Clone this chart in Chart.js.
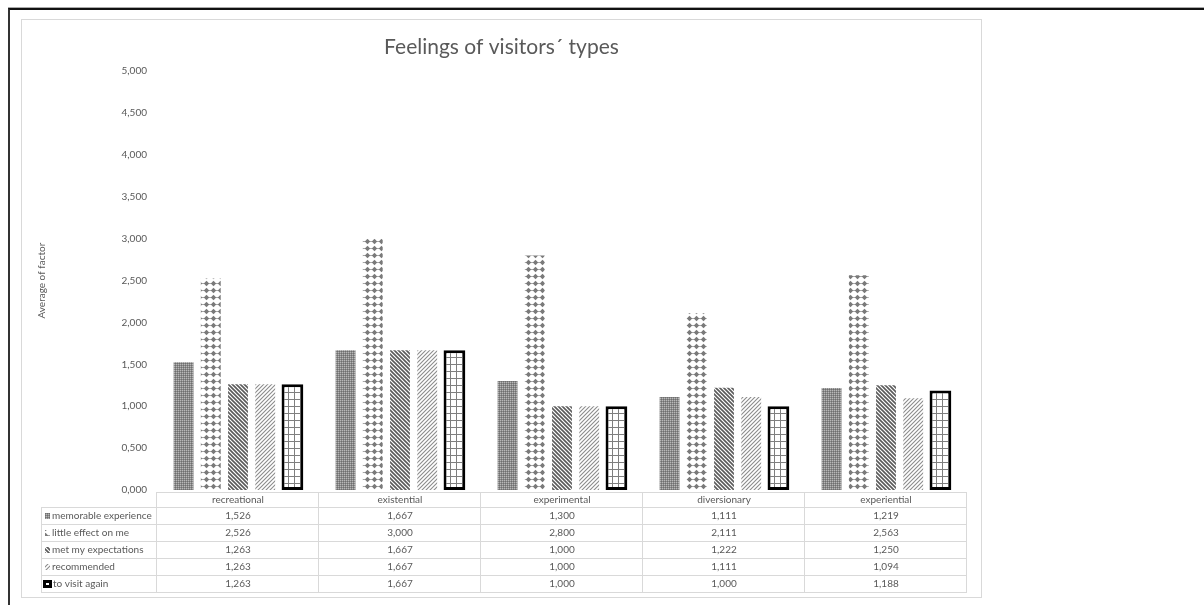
<!DOCTYPE html>
<html>
<head>
<meta charset="utf-8">
<title>Feelings of visitors´ types</title>
<script src="https://cdn.jsdelivr.net/npm/chart.js@4"></script>
<style>
  html, body { margin: 0; padding: 0; background: #ffffff; }
  body { width: 1204px; height: 605px; position: relative; overflow: hidden; }
  .frame {
    position: absolute; left: 8px; top: 8px; width: 1300px; height: 700px;
    border-top: 2px solid #111; border-left: 2px solid #333;
    box-shadow: 0 -1px 0 #aaa;
  }
  .box {
    position: absolute; left: 21px; top: 19px; width: 959px; height: 577px;
    border: 1px solid #d9d9d9;
  }
  canvas { position: absolute; left: 0; top: 0; }
</style>
</head>
<body>
<div class="frame"></div>
<div class="box"></div>
<canvas id="chart" width="1204" height="605"></canvas>
<script>
// Visitor types and the average score of each feeling
const categories = ['recreational', 'existential', 'experimental', 'diversionary', 'experiential'];
const memorableExperience = [1.526, 1.667, 1.300, 1.111, 1.219];
const littleEffectOnMe    = [2.526, 3.000, 2.800, 2.111, 2.563];
const metMyExpectations   = [1.263, 1.667, 1.000, 1.222, 1.250];
const recommended         = [1.263, 1.667, 1.000, 1.111, 1.094];
const toVisitAgain        = [1.263, 1.667, 1.000, 1.000, 1.188];
const seriesNames = ['memorable experience', 'little effect on me', 'met my expectations', 'recommended', 'to visit again'];
const yTicks = { min: 0, max: 5, step: 0.5 };

const TEXT = '#595959';
const RULE = '#d9d9d9';
const FONT = 'Lato, "Open Sans", sans-serif';

// Comma as decimal separator, three decimals
const fmt = v => v.toFixed(3).replace('.', ',');

// ---- fill patterns ----------------------------------------------------
function tile(w, h, draw) {
  const c = document.createElement('canvas');
  c.width = w; c.height = h;
  const g = c.getContext('2d');
  draw(g, w, h);
  return document.getElementById('chart').getContext('2d').createPattern(c, 'repeat');
}
// fine grey mesh
const patMesh = tile(2, 2, (g) => {
  g.fillStyle = '#8a8a8a'; g.fillRect(0, 0, 2, 2);
  g.fillStyle = '#b8b8b8'; g.fillRect(0, 0, 1, 1);
  g.fillStyle = '#6e6e6e'; g.fillRect(1, 1, 1, 1);
});
// rows of small diamonds
const patDiamond = tile(7, 7, (g) => {
  g.fillStyle = '#ffffff'; g.fillRect(0, 0, 7, 7);
  g.fillStyle = '#a8a8a8'; g.fillRect(0, 3, 7, 1);
  g.fillStyle = '#7a7a7a';
  g.beginPath();
  g.moveTo(3.5, 0.8); g.lineTo(6.2, 3.5); g.lineTo(3.5, 6.2); g.lineTo(0.8, 3.5);
  g.closePath(); g.fill();
});
// dark downward diagonal
const patDown = tile(4, 4, (g) => {
  g.fillStyle = '#ffffff'; g.fillRect(0, 0, 4, 4);
  g.strokeStyle = '#5a5a5a'; g.lineWidth = 1.6;
  g.beginPath();
  g.moveTo(-1, -1); g.lineTo(5, 5);
  g.moveTo(-1, 3); g.lineTo(1, 5);
  g.moveTo(3, -1); g.lineTo(5, 1);
  g.stroke();
});
// light upward diagonal
const patUp = tile(4, 4, (g) => {
  g.fillStyle = '#ffffff'; g.fillRect(0, 0, 4, 4);
  g.strokeStyle = '#8c8c8c'; g.lineWidth = 1.1;
  g.beginPath();
  g.moveTo(-1, 5); g.lineTo(5, -1);
  g.moveTo(-1, 1); g.lineTo(1, -1);
  g.moveTo(3, 5); g.lineTo(5, 3);
  g.stroke();
});
// open grid
const patGrid = tile(6, 7, (g) => {
  g.fillStyle = '#ffffff'; g.fillRect(0, 0, 6, 7);
  g.fillStyle = '#7f7f7f';
  g.fillRect(0, 0, 6, 1);
  g.fillRect(0, 0, 1, 7);
});

const fills = [patMesh, patDiamond, patDown, patUp, patGrid];
const values = [memorableExperience, littleEffectOnMe, metMyExpectations, recommended, toVisitAgain];

const datasets = values.map((v, i) => ({
  label: seriesNames[i],
  data: v,
  backgroundColor: fills[i],
  borderColor: i === 4 ? '#000000' : 'rgba(0,0,0,0)',
  borderWidth: i === 4 ? 3 : 0,
  borderSkipped: false,
  categoryPercentage: 0.84,
  barPercentage: i === 4 ? 0.8 : 0.73
}));

// ---- data table under the plot ---------------------------------------
const dataTable = {
  id: 'dataTable',
  afterDraw(chart) {
    const ctx = chart.ctx;
    const x = chart.scales.x;
    const area = chart.chartArea;
    const colW = (area.right - area.left) / categories.length;
    const headTop = area.bottom + 2;
    const headH = 15;
    const rowH = 17;
    const labelLeft = 41;
    const bodyTop = headTop + headH;
    const bottom = bodyTop + rowH * seriesNames.length;

    ctx.save();
    ctx.strokeStyle = RULE;
    ctx.lineWidth = 1;
    ctx.beginPath();
    // header row
    ctx.moveTo(area.left, headTop + 0.5); ctx.lineTo(area.right, headTop + 0.5);
    // body rows
    for (let r = 0; r <= seriesNames.length; r++) {
      const yy = Math.round(bodyTop + r * rowH) + 0.5;
      ctx.moveTo(labelLeft, yy); ctx.lineTo(area.right, yy);
    }
    // verticals
    ctx.moveTo(labelLeft + 0.5, bodyTop); ctx.lineTo(labelLeft + 0.5, bottom);
    for (let c = 0; c <= categories.length; c++) {
      const xx = Math.round(area.left + c * colW) - 0.5;
      ctx.moveTo(xx, headTop); ctx.lineTo(xx, bottom + 0.5);
    }
    ctx.stroke();

    ctx.fillStyle = TEXT;
    ctx.font = '10px ' + FONT;
    ctx.textBaseline = 'middle';
    ctx.textAlign = 'center';
    categories.forEach((cat, c) => {
      ctx.fillText(cat, x.getPixelForValue(c), headTop + headH / 2 + 0.5);
    });
    seriesNames.forEach((name, r) => {
      const cy = bodyTop + r * rowH + rowH / 2 + 0.5;
      // legend key
      if (r === 4) {
        ctx.fillStyle = '#000000';
        ctx.fillRect(labelLeft + 2, cy - 4, 9, 8);
        ctx.fillStyle = '#ffffff';
        ctx.fillRect(labelLeft + 5, cy - 1, 3, 2);
      } else {
        ctx.fillStyle = fills[r];
        ctx.fillRect(labelLeft + 4, cy - 3, 5, 6);
      }
      ctx.fillStyle = TEXT;
      ctx.textAlign = 'left';
      ctx.fillText(name, labelLeft + (r === 4 ? 12 : 11), cy);
      ctx.textAlign = 'center';
      values[r].forEach((v, c) => {
        ctx.fillText(fmt(v), x.getPixelForValue(c), cy);
      });
    });
    ctx.restore();
  }
};

new Chart(document.getElementById('chart'), {
  type: 'bar',
  data: { labels: categories, datasets },
  plugins: [dataTable],
  options: {
    responsive: false,
    animation: false,
    devicePixelRatio: 1,
    layout: { padding: { left: 36, right: 237, top: 20, bottom: 115 } },
    plugins: {
      legend: { display: false },
      tooltip: { enabled: false },
      title: {
        display: true,
        text: 'Feelings of visitors´ types',
        color: TEXT,
        font: { family: FONT, size: 21, weight: 'normal' },
        padding: { top: 15, bottom: 11 }
      }
    },
    scales: {
      x: {
        display: false
      },
      y: {
        min: yTicks.min,
        max: yTicks.max,
        grid: { display: false, drawTicks: false },
        border: { display: false },
        ticks: {
          stepSize: yTicks.step,
          padding: 10,
          color: TEXT,
          font: { family: FONT, size: 10 },
          callback: v => fmt(v)
        },
        title: {
          display: true,
          text: 'Average of factor',
          color: TEXT,
          font: { family: FONT, size: 10 },
          padding: { top: 0, bottom: 0 }
        },
        afterFit(scale) { scale.width = 121; }
      }
    }
  }
});
</script>
</body>
</html>
